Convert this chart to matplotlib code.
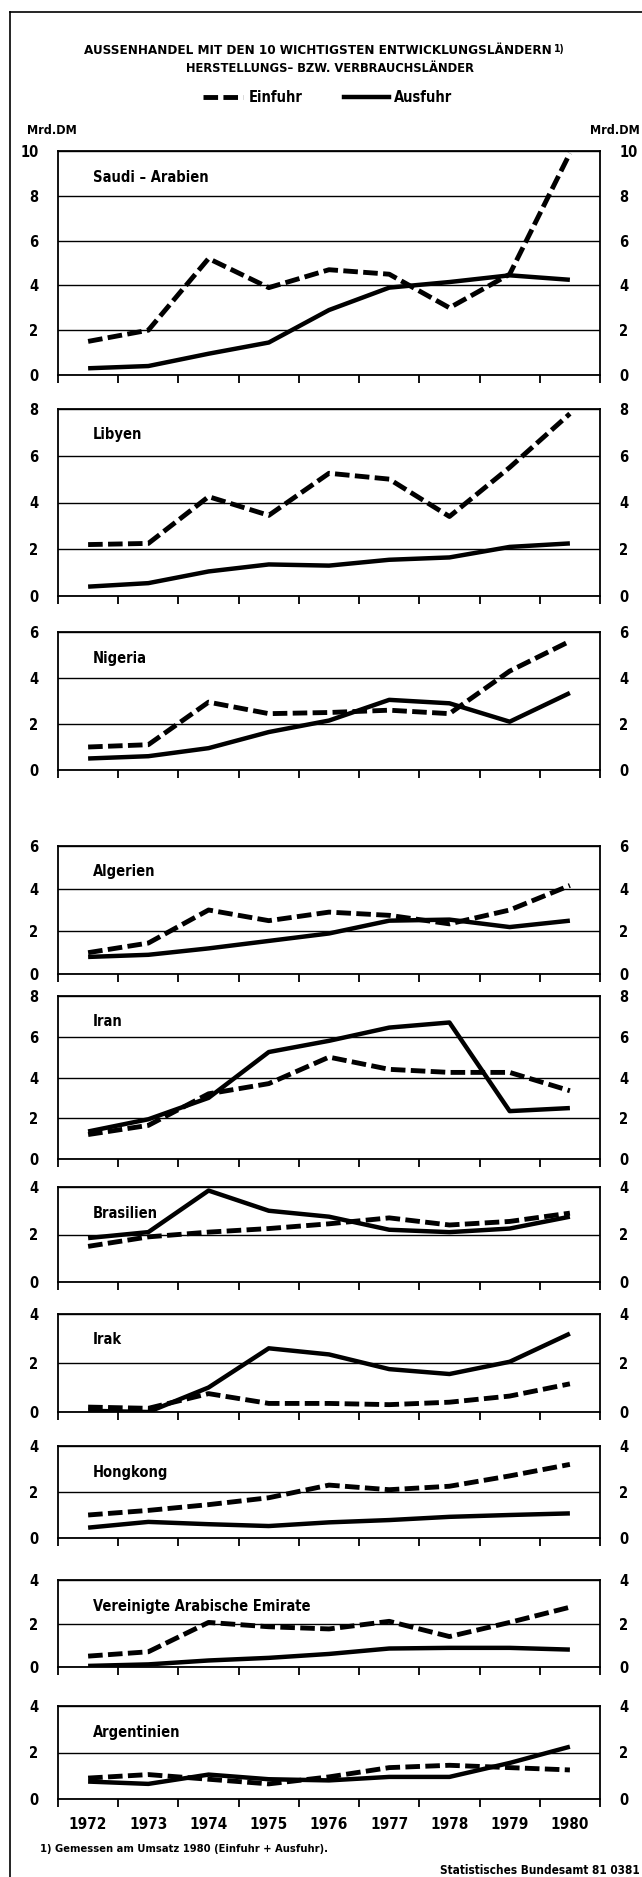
import matplotlib
matplotlib.use("Agg")
import matplotlib.pyplot as plt
from matplotlib.lines import Line2D

# Außenhandel mit den 10 wichtigsten Entwicklungsländern, Mrd. DM
years = [1972, 1973, 1974, 1975, 1976, 1977, 1978, 1979, 1980]

laender = ["Saudi – Arabien", "Libyen", "Nigeria", "Algerien", "Iran",
           "Brasilien", "Irak", "Hongkong", "Vereinigte Arabische Emirate",
           "Argentinien"]
ymax = [10, 8, 6, 6, 8, 4, 4, 4, 4, 4]

saudi_ein = [1.5, 2.0, 5.2, 3.9, 4.7, 4.5, 3.0, 4.5, 9.9]
saudi_aus = [0.3, 0.4, 0.95, 1.45, 2.9, 3.9, 4.15, 4.45, 4.25]
libyen_ein = [2.2, 2.25, 4.25, 3.45, 5.25, 5.0, 3.4, 5.5, 7.8]
libyen_aus = [0.4, 0.55, 1.05, 1.35, 1.3, 1.55, 1.65, 2.1, 2.25]
nigeria_ein = [1.0, 1.1, 2.95, 2.45, 2.5, 2.6, 2.45, 4.3, 5.6]
nigeria_aus = [0.5, 0.6, 0.95, 1.65, 2.15, 3.05, 2.9, 2.1, 3.35]
algerien_ein = [1.0, 1.45, 3.0, 2.5, 2.9, 2.75, 2.35, 3.0, 4.15]
algerien_aus = [0.8, 0.9, 1.2, 1.55, 1.9, 2.5, 2.55, 2.2, 2.5]
iran_ein = [1.2, 1.65, 3.2, 3.7, 5.0, 4.4, 4.25, 4.25, 3.35]
iran_aus = [1.35, 1.95, 3.0, 5.25, 5.8, 6.45, 6.7, 2.35, 2.5]
brasilien_ein = [1.5, 1.9, 2.1, 2.25, 2.45, 2.7, 2.4, 2.55, 2.9]
brasilien_aus = [1.85, 2.1, 3.85, 3.0, 2.75, 2.2, 2.1, 2.25, 2.75]
irak_ein = [0.2, 0.15, 0.75, 0.35, 0.35, 0.3, 0.4, 0.65, 1.15]
irak_aus = [0.05, 0.0, 1.0, 2.6, 2.35, 1.75, 1.55, 2.05, 3.2]
hongkong_ein = [1.0, 1.2, 1.45, 1.75, 2.3, 2.1, 2.25, 2.7, 3.2]
hongkong_aus = [0.45, 0.7, 0.6, 0.52, 0.68, 0.78, 0.92, 1.0, 1.07]
vae_ein = [0.5, 0.7, 2.05, 1.85, 1.75, 2.1, 1.4, 2.05, 2.75]
vae_aus = [0.05, 0.12, 0.3, 0.42, 0.6, 0.85, 0.88, 0.88, 0.8]
argent_ein = [0.9, 1.05, 0.85, 0.65, 0.95, 1.35, 1.45, 1.35, 1.25]
argent_aus = [0.75, 0.65, 1.05, 0.85, 0.8, 0.95, 0.95, 1.55, 2.25]

einfuhr = [saudi_ein, libyen_ein, nigeria_ein, algerien_ein, iran_ein,
           brasilien_ein, irak_ein, hongkong_ein, vae_ein, argent_ein]
ausfuhr = [saudi_aus, libyen_aus, nigeria_aus, algerien_aus, iran_aus,
           brasilien_aus, irak_aus, hongkong_aus, vae_aus, argent_aus]

# panel top / bottom in pixels (figure 642 x 1877)
panel_px = [(151, 375), (409, 596), (632, 770), (846, 974), (996, 1159),
            (1187, 1282), (1314, 1412), (1446, 1538), (1580, 1667), (1706, 1799)]

W, H = 642, 1877
plt.rcParams["font.family"] = ["DejaVu Sans"]
plt.rcParams["font.stretch"] = "condensed"
plt.rcParams["font.weight"] = "bold"

fig = plt.figure(figsize=(W / 100, H / 100), dpi=100)

# outer frame (top and left edge of the page)
fig.add_artist(Line2D([10 / W, 1], [1 - 12 / H, 1 - 12 / H], color="black", lw=1.2))
fig.add_artist(Line2D([10 / W, 10 / W], [0, 1 - 12 / H], color="black", lw=1.2))

x0, x1 = 58, 600
dash = (3.0, 1.1)
for i, name in enumerate(laender):
    top, bot = panel_px[i]
    ax = fig.add_axes([x0 / W, 1 - bot / H, (x1 - x0) / W, (bot - top) / H])
    ax.plot(years, ausfuhr[i], color="black", lw=3.2, solid_joinstyle="round",
            solid_capstyle="butt")
    ax.plot(years, einfuhr[i], color="black", lw=3.5, dashes=dash,
            dash_capstyle="butt")
    ax.set_xlim(1971.5, 1980.5)
    ax.set_ylim(0, ymax[i])
    ax.set_yticks(range(0, ymax[i] + 1, 2))
    ax.grid(axis="y", color="black", lw=1.0)
    ax.set_axisbelow(True)
    for s in ax.spines.values():
        s.set_linewidth(1.3)
    ax.set_xticks([1971.5 + k for k in range(10)])
    ax.set_xticklabels([])
    ax.tick_params(axis="x", direction="out", length=6, width=1.3)
    ax.tick_params(axis="y", length=0, labelleft=True, labelright=True,
                   labelsize=10.5, pad=14)
    for lab in ax.get_yticklabels():
        lab.set_fontweight("bold")
    fig.text(93 / W, 1 - (top + 26) / H, name, fontsize=10.5,
             fontweight="bold", va="center")
    if i == len(laender) - 1:
        ax.set_xticks(years, minor=True)
        ax.set_xticklabels([str(y) for y in years], minor=True,
                           fontsize=11, fontweight="bold")
        ax.tick_params(axis="x", which="minor", length=0, pad=13)

# titles
t = fig.text(318 / W, 1 - 50 / H, "AUSSENHANDEL MIT DEN 10 WICHTIGSTEN ENTWICKLUNGSLÄNDERN",
             ha="center", va="center", fontsize=9.6, fontweight="bold")
fig.canvas.draw()
bb = t.get_window_extent()
fig.text((bb.x1 + 2) / W, bb.y1 / H, "1)", ha="left", va="top", fontsize=7.5,
         fontweight="bold")
fig.text(330 / W, 1 - 68 / H, "HERSTELLUNGS– BZW. VERBRAUCHSLÄNDER",
         ha="center", va="center", fontsize=9.3, fontweight="bold")

# legend
ly = 1 - 97 / H
fig.add_artist(Line2D([203 / W, 243 / W], [ly, ly], color="black", lw=3.5,
                      dashes=dash, dash_capstyle="butt"))
fig.text(249 / W, ly, "Einfuhr", ha="left", va="center", fontsize=10.5)
fig.add_artist(Line2D([344 / W, 389 / W], [ly, ly], color="black", lw=3.2))
fig.text(394 / W, ly, "Ausfuhr", ha="left", va="center", fontsize=10.5)

fig.text(27 / W, 1 - 130 / H, "Mrd.DM", ha="left", va="center", fontsize=9,
         fontweight="bold")
fig.text(640 / W, 1 - 130 / H, "Mrd.DM", ha="right", va="center", fontsize=9,
         fontweight="bold")

fig.text(40 / W, 1 - 1849 / H, "1) Gemessen am Umsatz 1980 (Einfuhr + Ausfuhr).",
         ha="left", va="center", fontsize=8, fontweight="bold")
fig.text(640 / W, 1 - 1871 / H, "Statistisches Bundesamt 81 0381",
         ha="right", va="center", fontsize=8.5, fontweight="bold")

fig.savefig("out.png", dpi=100, facecolor="white")
